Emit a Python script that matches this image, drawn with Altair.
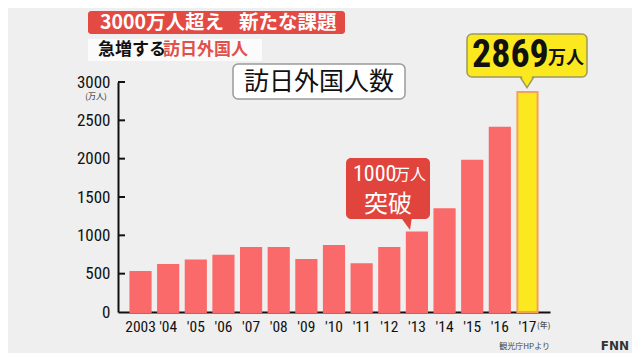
import altair as alt
import pandas as pd

years = ["2003", "'04", "'05", "'06", "'07", "'08", "'09", "'10", "'11", "'12", "'13", "'14", "'15", "'16", "'17"]
visitors = [521, 614, 673, 733, 835, 835, 679, 861, 622, 836, 1036, 1341, 1974, 2404, 2869]
kinds = ["past"] * 14 + ["latest"]
y_ticks = [0, 500, 1000, 1500, 2000, 2500, 3000]

NUM = "Liberation Sans Narrow, Roboto Condensed, Roboto"
JP = "Noto Sans CJK JP"
RED_BAR = "#fa6a6a"
YELLOW = "#fce81f"
CALLOUT_RED = "#e1443d"

df = pd.DataFrame({"year": years, "visitors": visitors, "kind": kinds})
ydom = alt.Scale(domain=[0, 3000])
y_axis = alt.Axis(title=None, values=y_ticks, grid=False, ticks=False, format="d",
                  labelFontSize=17, labelFont=NUM, labelColor="#111",
                  domainColor="#111", domainWidth=2, labelPadding=8)

bars = alt.Chart(df).mark_bar(strokeWidth=2).encode(
    x=alt.X("year:N", sort=years,
            scale=alt.Scale(paddingInner=0.27, paddingOuter=0.45),
            axis=alt.Axis(title=None, labelAngle=0, labelFontSize=15.5, labelFont=NUM,
                          labelColor="#111", ticks=False, domainColor="#111", domainWidth=2,
                          labelPadding=7, labelOverlap=False, labelBound=False)),
    y=alt.Y("visitors:Q", scale=ydom, axis=y_axis),
    color=alt.Color("kind:N", scale=alt.Scale(domain=["past", "latest"], range=[RED_BAR, YELLOW]), legend=None),
    stroke=alt.Stroke("kind:N", scale=alt.Scale(domain=["past", "latest"], range=[RED_BAR, "#f3a25a"]), legend=None),
)

tick_df = pd.DataFrame({"visitors": y_ticks[1:]})
tick_marks = alt.Chart(tick_df).mark_rule(color="#111", strokeWidth=2).encode(
    y=alt.Y("visitors:Q", scale=ydom, axis=y_axis), x=alt.value(0), x2=alt.value(7)
)

def rect(x, x2, y, y2, **kw):
    return alt.Chart(pd.DataFrame({"a": [0]})).mark_rect(**kw).encode(
        x=alt.value(x), x2=alt.value(x2), y=alt.value(y), y2=alt.value(y2))

def text(s, x, y, **kw):
    return alt.Chart(pd.DataFrame({"t": [s]})).mark_text(baseline="middle", **kw).encode(
        text="t:N", x=alt.value(x), y=alt.value(y))

def tri(path, x, y, size, **kw):
    return alt.Chart(pd.DataFrame({"a": [0]})).mark_point(shape=path, filled=True, opacity=1, **kw).encode(
        x=alt.value(x), y=alt.value(y), size=alt.value(size))

layers = [
    # headline banner
    rect(-30, 227, -71, -48, color="#e24a43", cornerRadius=3),
    text("3000万人超え", -18, -59.5, align="left", font=JP, fontSize=19.5, fontWeight="bold", color="white"),
    text("新たな課題", 121, -59.5, align="left", font=JP, fontSize=19.5, fontWeight="bold", color="white"),
    rect(-30, 144, -43, -21, color="#fbfbfb"),
    text("急増する", -20, -32, align="left", font=JP, fontSize=17, fontWeight="bold", color="#111"),
    text("訪日外国人", 45, -32, align="left", font=JP, fontSize=17, fontWeight="bold", color="#e2504a"),
    # chart label box
    rect(115, 287, -18, 17, color="white", stroke="#9a9a9a", strokeWidth=1.5, cornerRadius=5),
    text("訪日外国人数", 201, 0, align="center", font=JP, fontSize=25, color="#111"),
    # axis extras
    text("(万人)", -22, 15, align="center", font=JP, fontSize=8, color="#222"),
    text("(年)", 419, 244, align="left", font=JP, fontSize=8, color="#222"),
    text("観光庁HPより", 432, 265, align="right", font=JP, fontSize=8, color="#444"),
    text("FNN", 511, 264, align="right", font="DejaVu Sans", fontSize=12, fontWeight="bold", color="#333"),
    bars,
    tick_marks,
    # 2869 callout
    tri("M -1 -0.8 L 1 -0.8 L 0 0.75 Z", 409, 0, 225, color=YELLOW, stroke="#9c9a5c", strokeWidth=1.5),
    rect(349, 469, -48, -5, color=YELLOW, stroke="#9c9a5c", strokeWidth=1.5, cornerRadius=5),
    tri("M -1 -0.8 L 1 -0.8 L 0 0.6 Z", 409, -2, 150, color=YELLOW, strokeWidth=0),
    text("2869", 354, -26, align="left", font=NUM, fontSize=38, fontWeight="bold", color="#111"),
    text("万人", 430, -23, align="left", font=JP, fontSize=18, fontWeight="bold", color="#111"),
    # 1000 callout
    tri("M -1 -1.3 L 1 -1.3 L 0.67 1 Z", 288, 142, 144, color=CALLOUT_RED),
    rect(228, 312, 76, 137, color=CALLOUT_RED, cornerRadius=5),
    text("1000", 235, 92, align="left", font=NUM, fontSize=22, color="white"),
    text("万人", 276, 93, align="left", font=JP, fontSize=16, color="white"),
    text("突破", 270, 123, align="center", font=JP, fontSize=24, color="white"),
]

chart = alt.layer(*layers).properties(
    width=432, height=230,
    autosize="none",
    padding={"left": 110, "top": 74, "right": 82, "bottom": 41},
    background="#efefef",
).configure_view(stroke=None)

chart.save("out.html", embed_options={"renderer": "svg", "actions": False})
